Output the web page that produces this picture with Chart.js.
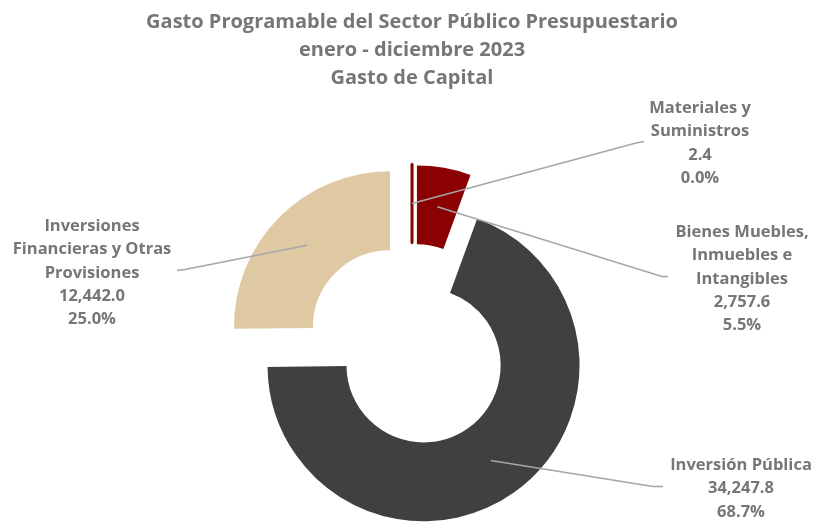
<!DOCTYPE html>
<html lang="es">
<head>
<meta charset="UTF-8">
<title>Gasto de Capital 2023</title>
<script src="https://cdn.jsdelivr.net/npm/chart.js@4.4.1/dist/chart.umd.min.js"></script>
<style>
    html, body { margin: 0; padding: 0; background: #ffffff; }
    .chart-wrap { position: relative; width: 813px; height: 522px; }
</style>
</head>
<body>
<div class="chart-wrap">
    <canvas id="capitalChart"></canvas>
</div>
<script>
// Gasto de Capital, enero - diciembre 2023 (millones de pesos)
const titleLines = [
    'Gasto Programable del Sector Público Presupuestario',
    'enero - diciembre 2023',
    'Gasto de Capital'
];
const categories = [
    ['Materiales y', 'Suministros'],
    ['Bienes Muebles,', 'Inmuebles e', 'Intangibles'],
    ['Inversión Pública'],
    ['Inversiones', 'Financieras y Otras', 'Provisiones']
];
const amounts = [2.4, 2757.6, 34247.8, 12442.0];
const percentLabels = ['0.0%', '5.5%', '68.7%', '25.0%'];

// Styling
const sliceColors = ['#8b0000', '#8b0000', '#404040', '#dec9a3'];
const explode = [29, 28, 20, 31];          // px each slice is pulled out
const textColor = '#767676';
const leaderColor = '#a6a6a6';
const labelFont = 'bold 16.5px "Open Sans"';
const labelLineHeight = 23.4;

// Label boxes: text centre x, first line y, leader bend and end points
const labelLayout = [
    { x: 700, y: 108, bend: [636, 143], end: [644, 141.5] },
    { x: 742, y: 232, bend: [662, 276.5], end: [668, 276.5] },
    { x: 741, y: 465, bend: [653, 486.5], end: [663, 486.5] },
    { x: 92, y: 226, bend: [185, 269.5], end: [177, 270.5] }
];

// Format values like 12,442.0
function formatAmount(v) {
    return v.toLocaleString('en-US', { minimumFractionDigits: 1, maximumFractionDigits: 1 });
}

// Draw each arc shifted along its own mid angle
const explodedSlices = {
    id: 'explodedSlices',
    beforeDatasetDraw(chart, args) {
        const ctx = chart.ctx;
        args.meta.data.forEach((arc, i) => {
            const mid = (arc.startAngle + arc.endAngle) / 2;
            ctx.save();
            ctx.translate(Math.cos(mid) * explode[i], Math.sin(mid) * explode[i]);
            arc.draw(ctx);
            ctx.restore();
        });
        return false;
    }
};

// Leader lines and data labels
const sliceLabels = {
    id: 'sliceLabels',
    afterDatasetsDraw(chart) {
        const ctx = chart.ctx;
        const arcs = chart.getDatasetMeta(0).data;

        arcs.forEach((arc, i) => {
            const mid = (arc.startAngle + arc.endAngle) / 2;
            const r = (arc.innerRadius + arc.outerRadius) / 2 + explode[i];
            const sx = arc.x + Math.cos(mid) * r;
            const sy = arc.y + Math.sin(mid) * r;
            const lay = labelLayout[i];

            ctx.save();
            ctx.strokeStyle = leaderColor;
            ctx.lineWidth = 1.5;
            ctx.beginPath();
            ctx.moveTo(sx, sy);
            ctx.lineTo(lay.bend[0], lay.bend[1]);
            ctx.lineTo(lay.end[0], lay.end[1]);
            ctx.stroke();

            const lines = [...categories[i], formatAmount(amounts[i]), percentLabels[i]];
            ctx.fillStyle = textColor;
            ctx.font = labelFont;
            ctx.textAlign = 'center';
            ctx.textBaseline = 'middle';
            lines.forEach((t, k) => ctx.fillText(t, lay.x, lay.y + k * labelLineHeight));
            ctx.restore();
        });
    }
};

const ctx = document.getElementById('capitalChart');

new Chart(ctx, {
    type: 'doughnut',
    data: {
        labels: categories,
        datasets: [{
            data: amounts,
            backgroundColor: sliceColors,
            borderColor: sliceColors,
            borderWidth: [3, 0, 0, 0]
        }]
    },
    options: {
        responsive: true,
        maintainAspectRatio: false,
        animation: false,
        radius: 156,
        cutout: '49.4%',
        rotation: 0,
        layout: {
            padding: { left: 11 }
        },
        plugins: {
            legend: { display: false },
            tooltip: { enabled: false },
            title: {
                display: true,
                text: titleLines,
                color: textColor,
                font: { family: 'Open Sans', size: 20, weight: 'bold', lineHeight: 1.4 },
                padding: { top: 8, bottom: 84 }
            }
        }
    },
    plugins: [explodedSlices, sliceLabels]
});
</script>
</body>
</html>
